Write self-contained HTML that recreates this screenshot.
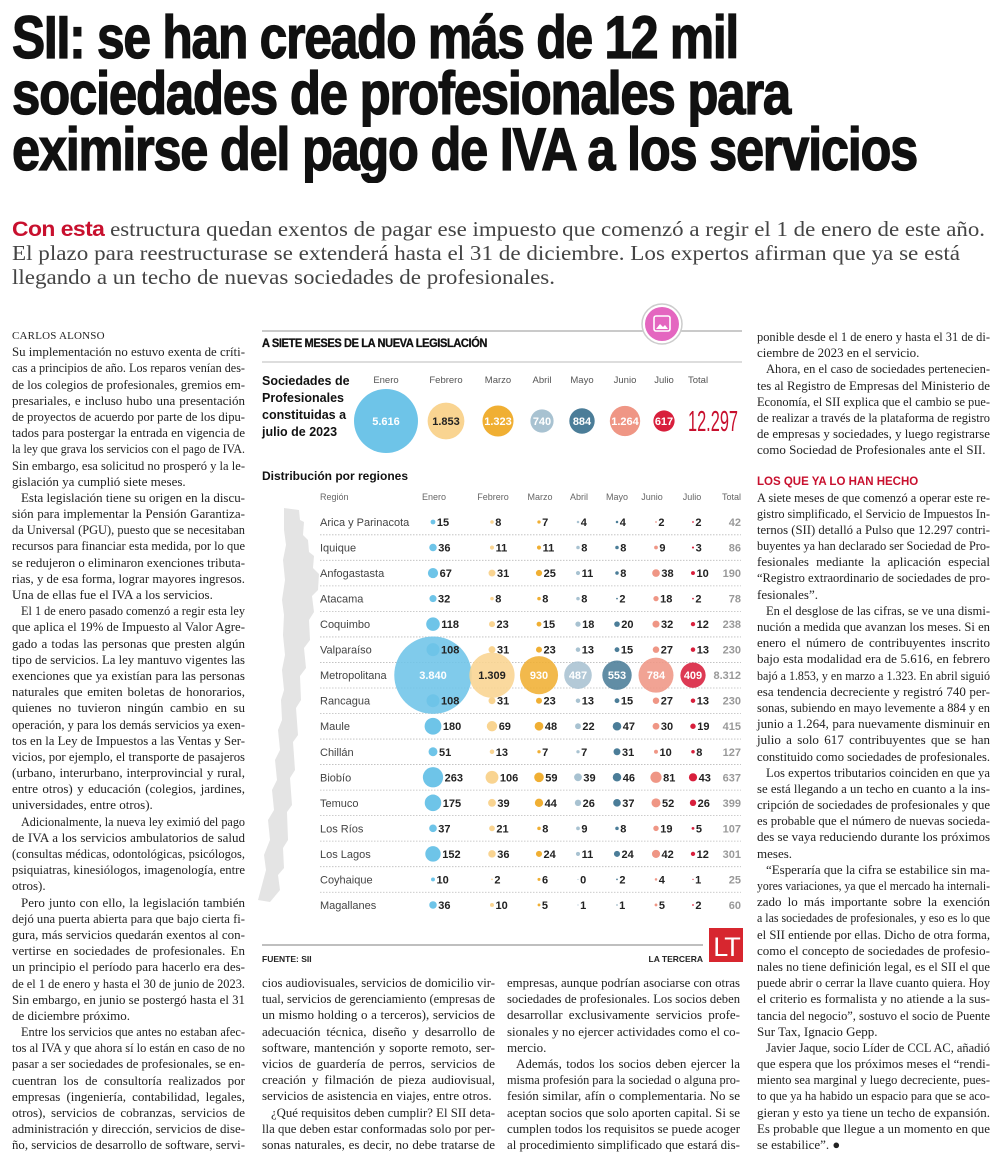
<!DOCTYPE html>
<html lang="es"><head><meta charset="utf-8">
<style>
html,body{margin:0;padding:0;background:#fff;}
body{width:1000px;height:1169px;position:relative;overflow:hidden;font-family:"Liberation Serif",serif;color:#222;}
.hl{position:absolute;left:12px;font-family:"Liberation Sans",sans-serif;font-weight:bold;font-size:60px;line-height:56px;white-space:nowrap;color:#111;letter-spacing:-1.5px;transform-origin:0 0;-webkit-text-stroke:1.3px #111;}
.sub{position:absolute;left:12px;font-size:21px;line-height:24px;white-space:nowrap;color:#444;transform-origin:0 0;}
.sub b{font-family:"Liberation Sans",sans-serif;color:#c8102e;letter-spacing:-0.5px;}
.col{position:absolute;width:233px;font-size:13px;line-height:16.2px;color:#222;}
.l{height:16.2px;white-space:nowrap;overflow:visible;}
.l span{display:inline-block;transform-origin:0 0;}
.ind{padding-left:9px;}
.by{font-size:11px;letter-spacing:0.2px;}
.rsub{height:31px;font-family:"Liberation Sans",sans-serif;font-weight:bold;color:#c8102e;font-size:11.5px;line-height:14px;padding-top:16px;box-sizing:border-box;}
svg text{font-family:"Liberation Sans",sans-serif;}
</style></head>
<body>

<div class="hl fit" data-w="726" style="top:10px">SII: se han creado más de 12 mil</div>
<div class="hl fit" data-w="778" style="top:66px">sociedades de profesionales para</div>
<div class="hl fit" data-w="905" style="top:122px">eximirse del pago de IVA a los servicios</div>

<div class="sub fit" data-w="973" style="top:217px"><b>Con esta</b> estructura quedan exentos de pagar ese impuesto que comenzó a regir el 1 de enero de este año.</div>
<div class="sub fit" data-w="948" style="top:241px">El plazo para reestructurase se extenderá hasta el 31 de diciembre. Los expertos afirman que ya se está</div>
<div class="sub fit" data-w="543" style="top:265px">llegando a un techo de nuevas sociedades de profesionales.</div>

<div class="col" style="left:12px;top:328px">
<div class="l by"><span>CARLOS ALONSO</span></div>
<div class="l j"><span>Su implementación no estuvo exenta de críti-</span></div>
<div class="l j"><span>cas a principios de año. Los reparos venían des-</span></div>
<div class="l j"><span>de los colegios de profesionales, gremios em-</span></div>
<div class="l j"><span>presariales, e incluso hubo una presentación</span></div>
<div class="l j"><span>de proyectos de acuerdo por parte de los dipu-</span></div>
<div class="l j"><span>tados para postergar la entrada en vigencia de</span></div>
<div class="l j"><span>la ley que grava los servicios con el pago de IVA.</span></div>
<div class="l j"><span>Sin embargo, esa solicitud no prosperó y la le-</span></div>
<div class="l"><span>gislación ya cumplió siete meses.</span></div>
<div class="l j ind"><span>Esta legislación tiene su origen en la discu-</span></div>
<div class="l j"><span>sión para implementar la Pensión Garantiza-</span></div>
<div class="l j"><span>da Universal (PGU), puesto que se necesitaban</span></div>
<div class="l j"><span>recursos para financiar esta medida, por lo que</span></div>
<div class="l j"><span>se redujeron o eliminaron exenciones tributa-</span></div>
<div class="l j"><span>rias, y de esa forma, lograr mayores ingresos.</span></div>
<div class="l"><span>Una de ellas fue el IVA a los servicios.</span></div>
<div class="l j ind"><span>El 1 de enero pasado comenzó a regir esta ley</span></div>
<div class="l j"><span>que aplica el 19% de Impuesto al Valor Agre-</span></div>
<div class="l j"><span>gado a todas las personas que presten algún</span></div>
<div class="l j"><span>tipo de servicios. La ley mantuvo vigentes las</span></div>
<div class="l j"><span>exenciones que ya existían para las personas</span></div>
<div class="l j"><span>naturales que emiten boletas de honorarios,</span></div>
<div class="l j"><span>quienes no tuvieron ningún cambio en su</span></div>
<div class="l j"><span>operación, y para los demás servicios ya exen-</span></div>
<div class="l j"><span>tos en la Ley de Impuestos a las Ventas y Ser-</span></div>
<div class="l j"><span>vicios, por ejemplo, el transporte de pasajeros</span></div>
<div class="l j"><span>(urbano, interurbano, interprovincial y rural,</span></div>
<div class="l j"><span>entre otros) y educación (colegios, jardines,</span></div>
<div class="l"><span>universidades, entre otros).</span></div>
<div class="l j ind"><span>Adicionalmente, la nueva ley eximió del pago</span></div>
<div class="l j"><span>de IVA a los servicios ambulatorios de salud</span></div>
<div class="l j"><span>(consultas médicas, odontológicas, psicólogos,</span></div>
<div class="l j"><span>psiquiatras, kinesiólogos, imagenología, entre</span></div>
<div class="l"><span>otros).</span></div>
<div class="l j ind"><span>Pero junto con ello, la legislación también</span></div>
<div class="l j"><span>dejó una puerta abierta para que bajo cierta fi-</span></div>
<div class="l j"><span>gura, más servicios quedarán exentos al con-</span></div>
<div class="l j"><span>vertirse en sociedades de profesionales. En</span></div>
<div class="l j"><span>un principio el período para hacerlo era des-</span></div>
<div class="l j"><span>de el 1 de enero y hasta el 30 de junio de 2023.</span></div>
<div class="l j"><span>Sin embargo, en junio se postergó hasta el 31</span></div>
<div class="l"><span>de diciembre próximo.</span></div>
<div class="l j ind"><span>Entre los servicios que antes no estaban afec-</span></div>
<div class="l j"><span>tos al IVA y que ahora sí lo están en caso de no</span></div>
<div class="l j"><span>pasar a ser sociedades de profesionales, se en-</span></div>
<div class="l j"><span>cuentran los de consultoría realizados por</span></div>
<div class="l j"><span>empresas (ingeniería, contabilidad, legales,</span></div>
<div class="l j"><span>otros), servicios de cobranzas, servicios de</span></div>
<div class="l j"><span>administración y dirección, servicios de dise-</span></div>
<div class="l j"><span>ño, servicios de desarrollo de software, servi-</span></div>
</div>

<div class="col" style="left:262px;top:975px">
<div class="l j"><span>cios audiovisuales, servicios de domicilio vir-</span></div>
<div class="l j"><span>tual, servicios de gerenciamiento (empresas de</span></div>
<div class="l j"><span>un mismo holding o a terceros), servicios de</span></div>
<div class="l j"><span>adecuación técnica, diseño y desarrollo de</span></div>
<div class="l j"><span>software, mantención y soporte remoto, ser-</span></div>
<div class="l j"><span>vicios de guardería de perros, servicios de</span></div>
<div class="l j"><span>creación y filmación de pieza audiovisual,</span></div>
<div class="l"><span>servicios de asistencia en viajes, entre otros.</span></div>
<div class="l j ind"><span>¿Qué requisitos deben cumplir? El SII deta-</span></div>
<div class="l j"><span>lla que deben estar conformadas solo por per-</span></div>
<div class="l j"><span>sonas naturales, es decir, no debe tratarse de</span></div>
</div>

<div class="col" style="left:507px;top:975px">
<div class="l j"><span>empresas, aunque podrían asociarse con otras</span></div>
<div class="l j"><span>sociedades de profesionales. Los socios deben</span></div>
<div class="l j"><span>desarrollar exclusivamente servicios profe-</span></div>
<div class="l j"><span>sionales y no ejercer actividades como el co-</span></div>
<div class="l"><span>mercio.</span></div>
<div class="l j ind"><span>Además, todos los socios deben ejercer la</span></div>
<div class="l j"><span>misma profesión para la sociedad o alguna pro-</span></div>
<div class="l j"><span>fesión similar, afín o complementaria. No se</span></div>
<div class="l j"><span>aceptan socios que solo aporten capital. Si se</span></div>
<div class="l j"><span>cumplen todos los requisitos se puede acoger</span></div>
<div class="l j"><span>al procedimiento simplificado que estará dis-</span></div>
</div>

<div class="col" style="left:757px;top:329px">
<div class="l j"><span>ponible desde el 1 de enero y hasta el 31 de di-</span></div>
<div class="l"><span>ciembre de 2023 en el servicio.</span></div>
<div class="l j ind"><span>Ahora, en el caso de sociedades pertenecien-</span></div>
<div class="l j"><span>tes al Registro de Empresas del Ministerio de</span></div>
<div class="l j"><span>Economía, el SII explica que el cambio se pue-</span></div>
<div class="l j"><span>de realizar a través de la plataforma de registro</span></div>
<div class="l j"><span>de empresas y sociedades, y luego registrarse</span></div>
<div class="l"><span>como Sociedad de Profesionales ante el SII.</span></div>
<div class="rsub">LOS QUE YA LO HAN HECHO</div>
<div class="l j"><span>A siete meses de que comenzó a operar este re-</span></div>
<div class="l j"><span>gistro simplificado, el Servicio de Impuestos In-</span></div>
<div class="l j"><span>ternos (SII) detalló a Pulso que 12.297 contri-</span></div>
<div class="l j"><span>buyentes ya han declarado ser Sociedad de Pro-</span></div>
<div class="l j"><span>fesionales mediante la aplicación especial</span></div>
<div class="l j"><span>“Registro extraordinario de sociedades de pro-</span></div>
<div class="l"><span>fesionales”.</span></div>
<div class="l j ind"><span>En el desglose de las cifras, se ve una dismi-</span></div>
<div class="l j"><span>nución a medida que avanzan los meses. Si en</span></div>
<div class="l j"><span>enero el número de contribuyentes inscrito</span></div>
<div class="l j"><span>bajo esta modalidad era de 5.616, en febrero</span></div>
<div class="l j"><span>bajó a 1.853, y en marzo a 1.323. En abril siguió</span></div>
<div class="l j"><span>esa tendencia decreciente y registró 740 per-</span></div>
<div class="l j"><span>sonas, subiendo en mayo levemente a 884 y en</span></div>
<div class="l j"><span>junio a 1.264, para nuevamente disminuir en</span></div>
<div class="l j"><span>julio a solo 617 contribuyentes que se han</span></div>
<div class="l"><span>constituido como sociedades de profesionales.</span></div>
<div class="l j ind"><span>Los expertos tributarios coinciden en que ya</span></div>
<div class="l j"><span>se está llegando a un techo en cuanto a la ins-</span></div>
<div class="l j"><span>cripción de sociedades de profesionales y que</span></div>
<div class="l j"><span>es probable que el número de nuevas socieda-</span></div>
<div class="l j"><span>des se vaya reduciendo durante los próximos</span></div>
<div class="l"><span>meses.</span></div>
<div class="l j ind"><span>“Esperaría que la cifra se estabilice sin ma-</span></div>
<div class="l j"><span>yores variaciones, ya que el mercado ha internali-</span></div>
<div class="l j"><span>zado lo más importante sobre la exención</span></div>
<div class="l j"><span>a las sociedades de profesionales, y eso es lo que</span></div>
<div class="l j"><span>el SII entiende por ellas. Dicho de otra forma,</span></div>
<div class="l j"><span>como el concepto de sociedades de profesio-</span></div>
<div class="l j"><span>nales no tiene definición legal, es el SII el que</span></div>
<div class="l j"><span>puede abrir o cerrar la llave cuanto quiera. Hoy</span></div>
<div class="l j"><span>el criterio es formalista y no atiende a la sus-</span></div>
<div class="l j"><span>tancia del negocio”, sostuvo el socio de Puente</span></div>
<div class="l"><span>Sur Tax, Ignacio Gepp.</span></div>
<div class="l j ind"><span>Javier Jaque, socio Líder de CCL AC, añadió</span></div>
<div class="l j"><span>que espera que los próximos meses el “rendi-</span></div>
<div class="l j"><span>miento sea marginal y luego decreciente, pues-</span></div>
<div class="l j"><span>to que ya ha habido un espacio para que se aco-</span></div>
<div class="l j"><span>gieran y esto ya tiene un techo de expansión.</span></div>
<div class="l j"><span>Es probable que llegue a un momento en que</span></div>
<div class="l"><span>se estabilice”. ●</span></div>
</div>

<svg id="chart" width="1000" height="1169" viewBox="0 0 1000 1169" style="position:absolute;left:0;top:0">
  <line x1="262" y1="331" x2="742" y2="331" stroke="#aaa" stroke-width="1.2"/>
  <g>
    <circle cx="662" cy="324" r="20" fill="#fff" stroke="#ccc" stroke-width="1.5"/>
    <circle cx="662" cy="324" r="17" fill="#e466c0"/>
    <rect x="654" y="316" width="16" height="15" rx="2" fill="none" stroke="#fff" stroke-width="1.6"/>
    <path d="M656 329 L660 324 L663 327 L665 325 L668 329 Z" fill="#fff"/>
  </g>
  <text x="262" y="347" font-size="11.5" font-weight="bold" fill="#111" letter-spacing="-0.4" stroke="#111" stroke-width="0.3" textLength="225" lengthAdjust="spacingAndGlyphs">A SIETE MESES DE LA NUEVA LEGISLACIÓN</text>
  <line x1="262" y1="362" x2="742" y2="362" stroke="#bbb" stroke-width="1"/>
  <g font-size="12.5" font-weight="bold" fill="#111">
    <text x="262" y="385">Sociedades de</text>
    <text x="262" y="402">Profesionales</text>
    <text x="262" y="419">constituidas a</text>
    <text x="262" y="436">julio de 2023</text>
  </g>
  <g id="topG"></g>
  <text x="262" y="480" font-size="12" font-weight="bold" fill="#111">Distribución por regiones</text>
  <path d="M284 508 L299 510 L300 520 L304 522 L303 535 L308 540 L309 552 L314 556 L313 568 L319 574 L318 590 L312 596 L314 612 L309 620 L310 640 L304 648 L306 668 L300 676 L301 700 L296 708 L298 735 L293 742 L295 770 L290 778 L292 805 L287 812 L288 840 L283 848 L284 868 L278 875 L280 890 L270 902 L258 900 L262 885 L266 870 L264 855 L270 840 L268 820 L274 810 L272 790 L277 780 L275 760 L280 750 L278 730 L282 720 L281 700 L284 690 L282 670 L285 655 L283 635 L284 615 L282 600 L285 580 L283 560 L286 545 L284 530 Z" fill="#e4e4e4"/>
  <g id="regG"></g>
  <line x1="262" y1="945" x2="703" y2="945" stroke="#999" stroke-width="1.2"/>
  <text x="262" y="962" font-size="8.5" font-weight="bold" fill="#222">FUENTE: SII</text>
  <text x="703" y="962" font-size="8.5" font-weight="bold" fill="#222" text-anchor="end">LA TERCERA</text>
  <g>
    <rect x="709" y="928" width="34" height="34" fill="#d7262f"/>
    <text x="726" y="956" font-size="27" fill="#fff" text-anchor="middle" letter-spacing="-2">LT</text>
  </g>
</svg>

<script>
const months = ["Enero","Febrero","Marzo","Abril","Mayo","Junio","Julio"];
const monthTotals = [5616,1853,1323,740,884,1264,617];
const grandTotal = 12297;
const regions = ["Arica y Parinacota","Iquique","Anfogastasta","Atacama","Coquimbo","Valparaíso","Metropolitana","Rancagua","Maule","Chillán","Biobío","Temuco","Los Ríos","Los Lagos","Coyhaique","Magallanes"];
const enero   = [15,36,67,32,118,108,3840,108,180,51,263,175,37,152,10,36];
const febrero = [8,11,31,8,23,31,1309,31,69,13,106,39,21,36,2,10];
const marzo   = [7,11,25,8,15,23,930,23,48,7,59,44,8,24,6,5];
const abril   = [4,8,11,8,18,13,487,13,22,7,39,26,9,11,0,1];
const mayo    = [4,8,8,2,20,15,553,15,47,31,46,37,8,24,2,1];
const junio   = [2,9,38,18,32,27,784,27,30,10,81,52,19,42,4,5];
const julio   = [2,3,10,2,12,13,409,13,19,8,43,26,5,12,1,2];
const regionTotals = [42,86,190,78,238,230,8312,230,415,127,637,399,107,301,25,60];

const NS = "http://www.w3.org/2000/svg";
const colors = ["#6ec4e8","#f9d491","#f0af33","#a8c2d1","#4b7d98","#ef9685","#d81f3c"];
const textOnDark = ["#fff","#222","#fff","#fff","#fff","#fff","#fff"];
function fmt(v){return String(v).replace(/\B(?=(\d{3})+(?!\d))/g,".");}
function mk(tag, attrs, parent){const e=document.createElementNS(NS,tag);for(const k in attrs)e.setAttribute(k,attrs[k]);parent.appendChild(e);return e;}

const topX = [386,446,498,542,582,625,664];
const topCy = 421;
const rTop = v => 0.427*Math.sqrt(v);
const topG = document.getElementById("topG");
monthTotals.forEach((v,i)=>{
  const lab = mk("text",{x:topX[i],y:383,"font-size":9.5,fill:"#555","text-anchor":"middle"},topG);
  lab.textContent = months[i];
  
  
  const c = mk("circle",{cx:topX[i],cy:topCy,r:rTop(v),fill:colors[i]},topG);
  
  
  const t = mk("text",{x:topX[i],y:topCy+4,"font-size":11,"font-weight":"bold",fill:textOnDark[i],"text-anchor":"middle"},topG);
  t.textContent = fmt(v);
  
  
});
const tl = mk("text",{x:688,y:383,"font-size":9.5,fill:"#555"},topG);
tl.textContent="Total";


const tv = mk("text",{x:688,y:431,"font-size":29,fill:"#c8102e",textLength:50,lengthAdjust:"spacingAndGlyphs"},topG);
tv.textContent = fmt(grandTotal);



const series = [enero,febrero,marzo,abril,mayo,junio,julio];
const colX = [433,492,539,578,617,656,693];
const headX = [434,493,540,579,617,652,692];
const rowY = i => 522 + i*25.53;
const rReg = v => 0.625*Math.sqrt(v);
const regG = document.getElementById("regG");
const hdr = mk("text",{x:320,y:500,"font-size":9,fill:"#666"},regG);
hdr.textContent="Región";


months.forEach((m,i)=>{
  const h = mk("text",{x:headX[i],y:500,"font-size":9,fill:"#666","text-anchor":"middle"},regG);
  h.textContent=m;
  
  
});
const th = mk("text",{x:741,y:500,"font-size":9,fill:"#666","text-anchor":"end"},regG);
th.textContent="Total";



regions.forEach((r,i)=>{
  if(i<regions.length-1){
    const ln = mk("line",{x1:320,x2:741,y1:rowY(i)+12.8,y2:rowY(i)+12.8,stroke:"#bbb","stroke-width":0.8,"stroke-dasharray":"1.5 1.5"},regG);
    
    
  }
});
const bigLayer = mk("g",{},regG);
const smallLayer = mk("g",{},regG);
regions.forEach((r,i)=>{
  const y = rowY(i);
  const name = mk("text",{x:320,y:y+4,"font-size":11,fill:"#444"},smallLayer);
  name.textContent = r;
  
  
  series.forEach((s,j)=>{
    const v = s[i];
    const rad = rReg(v);
    const big = rad > 12;
    const c = mk("circle",{cx:colX[j],cy:y,r:Math.max(rad,0.6),fill:colors[j],opacity:big?0.88:1},big?bigLayer:smallLayer);
    
    
    let t;
    if(big){
      t = mk("text",{x:colX[j],y:y+4,"font-size":11,"font-weight":"bold",fill:textOnDark[j],"text-anchor":"middle"},bigLayer);
    } else {
      t = mk("text",{x:colX[j]+Math.max(rad,0.6)+1.5,y:y+4,"font-size":11,"font-weight":"bold",fill:"#222"},smallLayer);
    }
    t.textContent = fmt(v);
    
    
  });
  const tt = mk("text",{x:741,y:y+4,"font-size":11,"font-weight":"bold",fill:"#999","text-anchor":"end"},smallLayer);
  tt.textContent = fmt(regionTotals[i]);
  
  
});

document.querySelectorAll(".fit").forEach(el=>{
  const w = el.getBoundingClientRect().width;
  const target = +el.getAttribute("data-w");
  el.style.transform = "scaleX(" + (target/w) + ")";
});
document.querySelectorAll(".col .l").forEach(el=>{
  const sp = el.querySelector("span");
  const cs = getComputedStyle(el);
  const target = 233 - parseFloat(cs.paddingLeft);
  const w = sp.getBoundingClientRect().width;
  if(w > target){
    sp.style.transform = "scaleX(" + (target/w) + ")";
  } else if(el.classList.contains("j")){
    const spaces = (sp.textContent.match(/ /g)||[]).length;
    if(spaces>0) sp.style.wordSpacing = ((target-w)/spaces) + "px";
  }
});
</script>
</body></html>
